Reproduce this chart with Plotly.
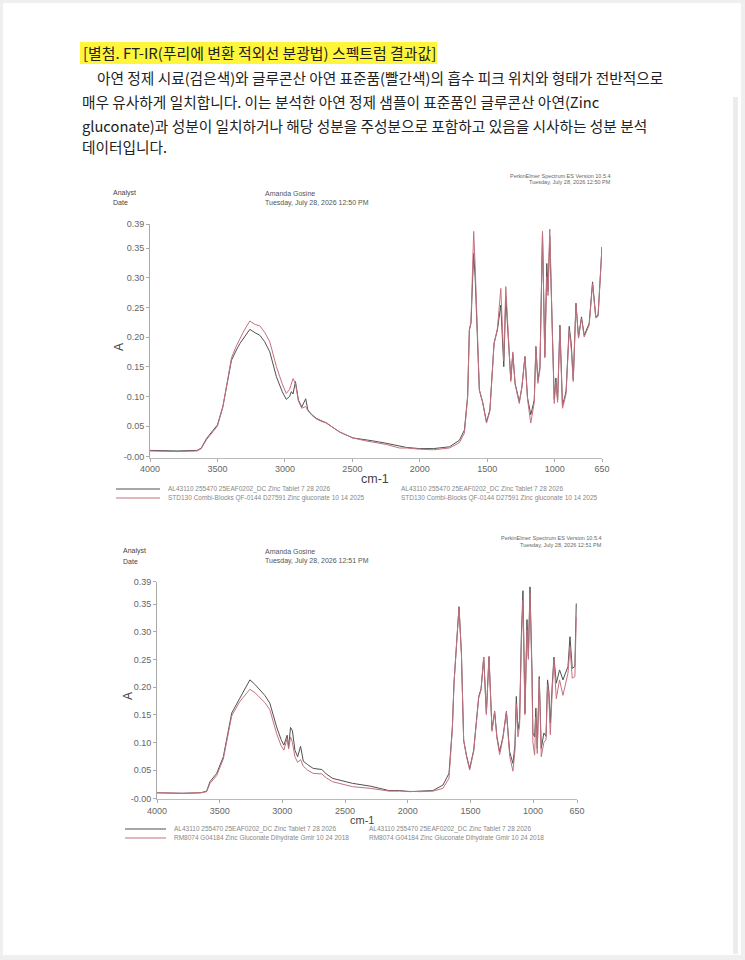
import plotly.graph_objects as go

W, H = 745, 960

# ---- spectrum 1: sample vs STD130 standard ----
wn_top = [4000, 3800, 3650, 3620, 3581, 3533, 3500, 3460, 3420, 3396, 3360, 3334, 3300, 3260,
          3220, 3186, 3150, 3112, 3063, 3020, 2990, 2965, 2952, 2940, 2922, 2900, 2875, 2846,
          2830, 2800, 2767, 2720, 2693, 2660, 2595, 2497, 2400, 2348, 2250, 2151, 2100, 2003,
          1900, 1781, 1707, 1670, 1646, 1633, 1621, 1610, 1601, 1590, 1580, 1559, 1545, 1535,
          1506, 1481, 1450, 1425, 1400, 1378, 1363, 1339, 1326, 1311, 1294, 1263, 1244, 1221,
          1202, 1178, 1152, 1140, 1125, 1110, 1091, 1074, 1059, 1050, 1037, 1017, 1004, 992,
          979, 962, 943, 926, 916, 893, 878, 863, 843, 824, 802, 782, 745, 720, 696, 679, 650]
top_black = [0.009, 0.008, 0.009, 0.013, 0.029, 0.043, 0.052, 0.083, 0.130, 0.161, 0.178, 0.189, 0.200, 0.213,
             0.207, 0.203, 0.192, 0.175, 0.133, 0.108, 0.095, 0.100, 0.108, 0.104, 0.125, 0.094, 0.082, 0.096,
             0.077, 0.069, 0.063, 0.058, 0.055, 0.050, 0.040, 0.030, 0.027, 0.025, 0.021, 0.016, 0.014, 0.012,
             0.012, 0.015, 0.026, 0.043, 0.100, 0.212, 0.223, 0.290, 0.341, 0.300, 0.246, 0.111, 0.098, 0.091,
             0.057, 0.077, 0.190, 0.212, 0.254, 0.150, 0.268, 0.167, 0.128, 0.172, 0.122, 0.091, 0.115, 0.167,
             0.098, 0.069, 0.094, 0.184, 0.127, 0.149, 0.375, 0.167, 0.324, 0.277, 0.370, 0.201, 0.095, 0.131,
             0.094, 0.220, 0.085, 0.099, 0.110, 0.218, 0.189, 0.128, 0.257, 0.200, 0.234, 0.203, 0.223, 0.293,
             0.234, 0.237, 0.352]
top_red = [0.008, 0.007, 0.008, 0.012, 0.027, 0.041, 0.050, 0.082, 0.132, 0.165, 0.185, 0.198, 0.212, 0.227,
           0.221, 0.219, 0.208, 0.192, 0.150, 0.121, 0.105, 0.112, 0.122, 0.130, 0.122, 0.092, 0.080, 0.083,
           0.076, 0.068, 0.062, 0.057, 0.056, 0.050, 0.040, 0.030, 0.025, 0.023, 0.019, 0.013, 0.013, 0.011,
           0.010, 0.013, 0.022, 0.038, 0.097, 0.212, 0.226, 0.310, 0.378, 0.320, 0.246, 0.111, 0.100, 0.090,
           0.055, 0.075, 0.188, 0.215, 0.282, 0.160, 0.285, 0.167, 0.125, 0.175, 0.120, 0.088, 0.115, 0.167,
           0.095, 0.055, 0.090, 0.184, 0.122, 0.145, 0.378, 0.165, 0.302, 0.270, 0.382, 0.200, 0.088, 0.125,
           0.090, 0.218, 0.080, 0.095, 0.105, 0.212, 0.180, 0.125, 0.255, 0.198, 0.232, 0.200, 0.220, 0.290,
           0.232, 0.235, 0.352]

# ---- spectrum 2: sample vs RM8074 reference ----
wn_bot = [4000, 3800, 3650, 3604, 3577, 3524, 3471, 3404, 3339, 3300, 3259, 3220, 3179, 3140,
          3100, 3046, 3010, 2988, 2962, 2950, 2935, 2920, 2900, 2878, 2855, 2833, 2800, 2754,
          2685, 2650, 2600, 2440, 2300, 2227, 2150, 2064, 1984, 1900, 1798, 1719, 1671, 1644,
          1631, 1607, 1591, 1572, 1554, 1532, 1506, 1474, 1434, 1415, 1394, 1373, 1352, 1328,
          1307, 1289, 1267, 1240, 1213, 1187, 1161, 1145, 1134, 1121, 1108, 1094, 1081, 1065,
          1049, 1038, 1025, 1009, 1002, 988, 978, 967, 951, 935, 914, 897, 885, 874, 863, 847,
          834, 815, 789, 762, 722, 706, 688, 667, 656]
bot_black = [0.009, 0.008, 0.009, 0.012, 0.029, 0.044, 0.074, 0.153, 0.180, 0.196, 0.213, 0.205, 0.195, 0.185,
             0.171, 0.128, 0.105, 0.095, 0.113, 0.092, 0.127, 0.121, 0.086, 0.074, 0.093, 0.066, 0.060, 0.053,
             0.051, 0.043, 0.035, 0.026, 0.021, 0.017, 0.013, 0.013, 0.011, 0.012, 0.013, 0.023, 0.044, 0.128,
             0.207, 0.291, 0.345, 0.261, 0.104, 0.077, 0.053, 0.086, 0.183, 0.197, 0.254, 0.153, 0.255, 0.123,
             0.156, 0.111, 0.083, 0.111, 0.156, 0.083, 0.062, 0.095, 0.183, 0.123, 0.140, 0.291, 0.374, 0.153,
             0.322, 0.255, 0.381, 0.230, 0.117, 0.110, 0.162, 0.089, 0.219, 0.089, 0.117, 0.111, 0.213, 0.192,
             0.135, 0.207, 0.254, 0.207, 0.231, 0.213, 0.237, 0.291, 0.234, 0.237, 0.351]
bot_red = [0.009, 0.008, 0.009, 0.011, 0.026, 0.040, 0.070, 0.148, 0.174, 0.185, 0.196, 0.190, 0.180, 0.172,
           0.159, 0.116, 0.094, 0.086, 0.107, 0.088, 0.110, 0.100, 0.074, 0.064, 0.069, 0.057, 0.050, 0.044,
           0.043, 0.036, 0.029, 0.020, 0.017, 0.014, 0.012, 0.012, 0.011, 0.011, 0.012, 0.017, 0.035, 0.125,
           0.207, 0.291, 0.345, 0.261, 0.104, 0.075, 0.050, 0.084, 0.180, 0.195, 0.254, 0.150, 0.255, 0.120,
           0.155, 0.108, 0.078, 0.108, 0.155, 0.075, 0.048, 0.085, 0.170, 0.110, 0.130, 0.280, 0.357, 0.150,
           0.303, 0.250, 0.370, 0.220, 0.100, 0.077, 0.146, 0.080, 0.215, 0.074, 0.100, 0.105, 0.204, 0.180,
           0.114, 0.195, 0.250, 0.179, 0.213, 0.185, 0.225, 0.273, 0.216, 0.219, 0.327]

x_ticks = [4000, 3500, 3000, 2500, 2000, 1500, 1000, 650]
y_ticks = [-0.002, 0.05, 0.10, 0.15, 0.20, 0.25, 0.30, 0.35, 0.39]
y_ticktext = ["-0.00", "0.05", "0.10", "0.15", "0.20", "0.25", "0.30", "0.35", "0.39"]

title_text = "[별첨. FT-IR(푸리에 변환 적외선 분광법) 스펙트럼 결과값]"
body_lines = [
    "아연 정제 시료(검은색)와 글루콘산 아연 표준품(빨간색)의 흡수 피크 위치와 형태가 전반적으로",
    "매우 유사하게 일치합니다. 이는 분석한 아연 정제 샘플이 표준품인 글루콘산 아연(Zinc",
    "gluconate)과 성분이 일치하거나 해당 성분을 주성분으로 포함하고 있음을 시사하는 성분 분석",
    "데이터입니다.",
]
sample_name = "AL43110 255470 25EAF0202_DC Zinc Tablet 7 28 2026"
std_top = "STD130 Combi-Blocks QF-0144 D27591 Zinc gluconate 10 14 2025"
std_bot = "RM8074 G04184 Zinc Gluconate Dihydrate Gmlr 10 24 2018"

BLACK = "#505050"
RED = "#c4707e"
KR = "Noto Sans CJK KR"
SANS = "Liberation Sans, Arial"


def fx(x):
    return x / W


def fy(y):
    return 1 - y / H


fig = go.Figure()
fig.add_trace(go.Scatter(x=wn_top, y=top_black, mode="lines", line=dict(color=BLACK, width=1),
                         xaxis="x", yaxis="y"))
fig.add_trace(go.Scatter(x=wn_top, y=top_red, mode="lines", line=dict(color=RED, width=1),
                         xaxis="x", yaxis="y"))
fig.add_trace(go.Scatter(x=wn_bot, y=bot_black, mode="lines", line=dict(color=BLACK, width=1),
                         xaxis="x2", yaxis="y2"))
fig.add_trace(go.Scatter(x=wn_bot, y=bot_red, mode="lines", line=dict(color=RED, width=1),
                         xaxis="x2", yaxis="y2"))

xcommon = dict(range=[4000, 650], tickvals=x_ticks, ticks="outside", ticklen=3, tickcolor="#aaa",
               showline=True, linecolor="#bbb", showgrid=False, zeroline=False, automargin=False,
               tickfont=dict(size=9, color="#666", family=SANS))
ycommon = dict(range=[-0.003, 0.39], tickvals=y_ticks, ticktext=y_ticktext, ticks="outside",
               ticklen=3, tickcolor="#aaa", showline=True, linecolor="#aaa", showgrid=False,
               zeroline=False, automargin=False, tickfont=dict(size=9, color="#666", family=SANS))

annotations = []
shapes = []


def note(x, y, text, size, color="#555", anchor="left", family=SANS, angle=0):
    annotations.append(dict(x=fx(x), y=fy(y), xref="paper", yref="paper", text=text,
                            showarrow=False, xanchor=anchor, yanchor="middle", textangle=angle,
                            font=dict(size=size, color=color, family=family)))


# page and document text
shapes.append(dict(type="rect", xref="paper", yref="paper", x0=fx(3), x1=fx(741), y0=fy(955), y1=fy(3),
                   fillcolor="white", line=dict(width=0), layer="below"))
shapes.append(dict(type="rect", xref="paper", yref="paper", x0=fx(733), x1=fx(738), y0=fy(954), y1=fy(97),
                   fillcolor="#ececec", line=dict(width=0), layer="below"))
shapes.append(dict(type="rect", xref="paper", yref="paper", x0=fx(80), x1=fx(437), y0=fy(64), y1=fy(42),
                   fillcolor="#fff53a", line=dict(width=0), layer="below"))
note(81, 53, title_text, 14.9, "#222", family=KR)
note(95, 77, body_lines[0], 14.7, "#222", family=KR)
note(80, 102, body_lines[1], 14.7, "#222", family=KR)
note(80, 126, body_lines[2], 14.7, "#222", family=KR)
note(80, 147, body_lines[3], 14.7, "#222", family=KR)

# header / labels for both spectra
panels = [
    dict(right=613, top=176, ana_x=111, ana_y=193, name_x=263, stamp="Tuesday, July 28, 2026 12:50 PM",
         a_x=119, a_y=347, cm_x=375, cm_y=479, cm_size=12.5, leg_x0=116, leg_x1=160, leg_tx=166,
         leg_tx2=399, leg_y=489, std=std_top),
    dict(right=604, top=538, ana_x=121, ana_y=551, name_x=263, stamp="Tuesday, July 28, 2026 12:51 PM",
         a_x=128, a_y=696, cm_x=362, cm_y=819.5, cm_size=11, leg_x0=125, leg_x1=166, leg_tx=172,
         leg_tx2=367, leg_y=829, std=std_bot),
]
for p in panels:
    note(p["right"], p["top"], "PerkinElmer Spectrum ES Version 10.5.4", 5.5, "#666", anchor="right")
    note(p["right"], p["top"] + 6.5, p["stamp"], 5.5, "#666", anchor="right")
    note(p["ana_x"], p["ana_y"], "Analyst", 7, "#444")
    note(p["ana_x"], p["ana_y"] + 10, "Date", 7, "#444")
    note(p["name_x"], p["ana_y"], "Amanda Gosine", 7, "#555")
    note(p["name_x"], p["ana_y"] + 10, p["stamp"], 7, "#555")
    note(p["a_x"], p["a_y"], "A", 12, "#444", anchor="center", angle=-90)
    note(p["cm_x"], p["cm_y"], "cm-1", p["cm_size"], "#444", anchor="center")
    for i, (col, txt) in enumerate([(BLACK, sample_name), (RED, p["std"])]):
        yy = p["leg_y"] + i * 9
        shapes.append(dict(type="line", xref="paper", yref="paper", x0=fx(p["leg_x0"]), x1=fx(p["leg_x1"]),
                           y0=fy(yy), y1=fy(yy), line=dict(color=col, width=1)))
        note(p["leg_tx"], yy, txt, 6.5, "#888")
        note(p["leg_tx2"], yy, txt, 6.5, "#888")

fig.update_layout(
    width=W, height=H,
    margin=dict(l=0, r=0, t=0, b=0, pad=0, autoexpand=False),
    paper_bgcolor="#efefef", plot_bgcolor="white",
    showlegend=False,
    xaxis=dict(domain=[fx(150), fx(602)], anchor="y", **xcommon),
    yaxis=dict(domain=[fy(457.5), fy(224.3)], anchor="x", **ycommon),
    xaxis2=dict(domain=[fx(157), fx(577)], anchor="y2", **xcommon),
    yaxis2=dict(domain=[fy(799.4), fy(581.9)], anchor="x2", **ycommon),
    annotations=annotations,
    shapes=shapes,
)

# drop the default body margin so the page maps 1:1 onto the window
fig.write_html("out.html", config={"displayModeBar": False},
               post_script="document.body.style.margin='0';document.body.style.overflow='hidden';")
